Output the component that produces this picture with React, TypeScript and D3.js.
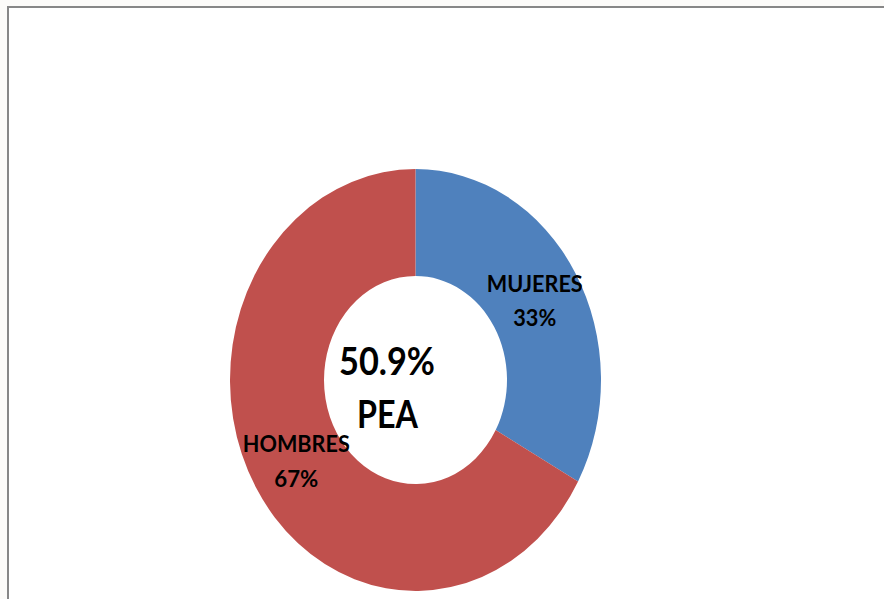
import React from "react";
import * as d3 from "d3";

const categories = ["MUJERES", "HOMBRES"];
const values = [33, 67];
const colors = ["#4f81bd", "#c0504d"];
const centerLines = ["50.9%", "PEA"];

const W = 884;
const H = 599;

export default function App() {
  const cx = 415.5;
  const cy = 380;
  const rOuter = 185.5;
  const rInner = 91.5;
  const sy = 1.137;

  const pie = d3.pie<number>().sort(null).startAngle(0).endAngle(2 * Math.PI);
  const arcs = pie(values);
  const arc = d3.arc<d3.PieArcDatum<number>>().innerRadius(rInner).outerRadius(rOuter);

  const labelWidths = [96, 107];
  const pctWidths = [43, 44];
  const font = "Lato, 'Open Sans', sans-serif";

  return (
    <svg
      width={W}
      height={H}
      style={{ position: "absolute", left: 0, top: 0, display: "block" }}
      xmlns="http://www.w3.org/2000/svg"
    >
      <rect x={0} y={0} width={W} height={H} fill="#fcfbf9" />
      <rect x={8} y={7} width={W - 8} height={H - 7} fill="#ffffff" />
      <line x1={7} y1={7} x2={W} y2={7} stroke="#878787" strokeWidth={2} />
      <line x1={8} y1={6} x2={8} y2={H} stroke="#878787" strokeWidth={2} />
      <g transform={`translate(${cx},${cy}) scale(1,${sy})`}>
        {arcs.map((a, i) => (
          <path key={categories[i]} d={arc(a) || ""} fill={colors[i]} />
        ))}
      </g>
      {arcs.map((a, i) => {
        const [px, py] = arc.centroid(a);
        const x = cx + px;
        const y = cy + py * sy;
        return (
          <g key={"l" + i} fontFamily={font} fontWeight="bold" fontSize={23.5} fill="#000">
            <text
              x={x}
              y={y - 8}
              textAnchor="middle"
              textLength={labelWidths[i]}
              lengthAdjust="spacingAndGlyphs"
            >
              {categories[i]}
            </text>
            <text
              x={x}
              y={y + 26.5}
              textAnchor="middle"
              textLength={pctWidths[i]}
              lengthAdjust="spacingAndGlyphs"
            >
              {values[i] + "%"}
            </text>
          </g>
        );
      })}
      <g fontFamily={font} fontWeight="bold" fontSize={38} fill="#000">
        <text x={cx - 28.5} y={375} textAnchor="middle" textLength={96} lengthAdjust="spacingAndGlyphs">
          {centerLines[0]}
        </text>
        <text x={cx - 28} y={428} textAnchor="middle" textLength={61} lengthAdjust="spacingAndGlyphs">
          {centerLines[1]}
        </text>
      </g>
    </svg>
  );
}
